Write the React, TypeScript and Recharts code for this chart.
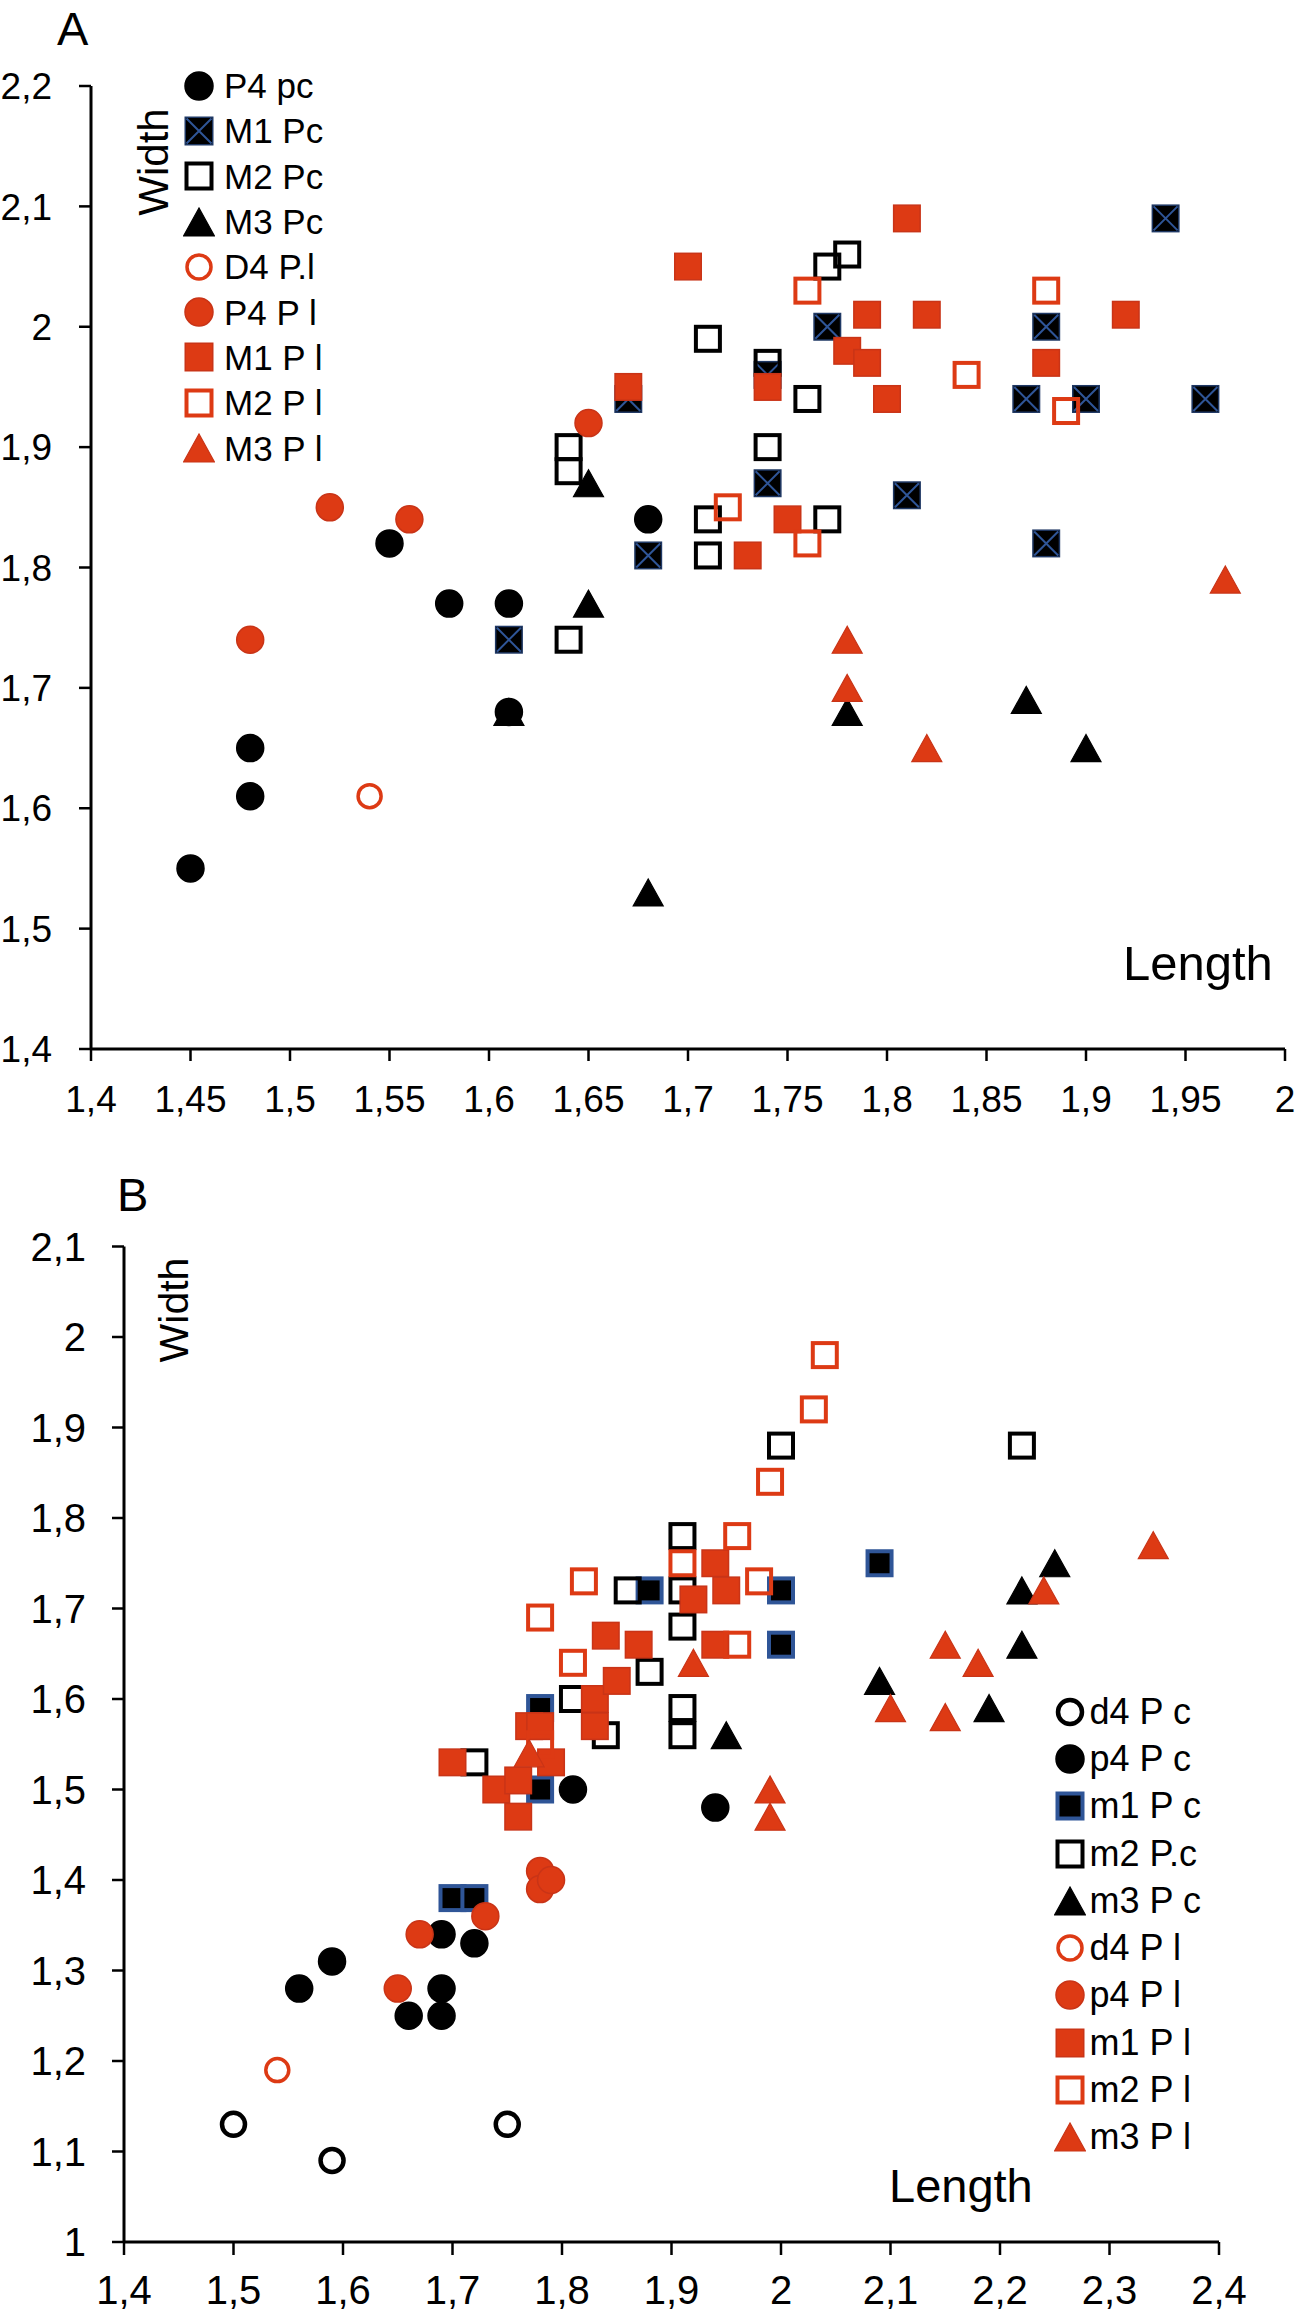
import React from "react";
import { ScatterChart, Scatter, XAxis, YAxis, Legend, Label } from "recharts";

const RED = "#DD3A14";
const RED_EDGE = "#C93417";
const BLUE = "#2F5597";
const NAVY = "#1F3864";
const SANS = "'Liberation Sans', Arial, sans-serif";
const NARROW = "'Liberation Sans Narrow', 'Liberation Sans', Arial, sans-serif";

// panel A — [length, width]
const aP4pc = [[1.45, 1.55], [1.48, 1.65], [1.48, 1.61], [1.55, 1.82], [1.58, 1.77], [1.61, 1.77], [1.61, 1.68], [1.68, 1.84]];
const aM1pc = [[1.61, 1.74], [1.67, 1.94], [1.68, 1.81], [1.74, 1.96], [1.74, 1.87], [1.77, 2.0], [1.81, 1.86], [1.87, 1.94], [1.88, 2.0], [1.88, 1.82], [1.9, 1.94], [1.94, 2.09], [1.96, 1.94]];
const aM2pc = [[1.64, 1.9], [1.64, 1.88], [1.64, 1.74], [1.71, 1.99], [1.71, 1.84], [1.71, 1.81], [1.74, 1.97], [1.74, 1.9], [1.76, 1.94], [1.77, 2.05], [1.78, 2.06], [1.77, 1.84]];
const aM3pc = [[1.61, 1.68], [1.65, 1.87], [1.65, 1.77], [1.68, 1.53], [1.78, 1.68], [1.87, 1.69], [1.9, 1.65]];
const aD4pl = [[1.54, 1.61]];
const aP4pl = [[1.48, 1.74], [1.52, 1.85], [1.56, 1.84], [1.65, 1.92]];
const aM1pl = [[1.67, 1.95], [1.7, 2.05], [1.73, 1.81], [1.74, 1.95], [1.75, 1.84], [1.78, 1.98], [1.79, 2.01], [1.79, 1.97], [1.8, 1.94], [1.81, 2.09], [1.82, 2.01], [1.88, 1.97], [1.92, 2.01]];
const aM2pl = [[1.72, 1.85], [1.76, 2.03], [1.76, 1.82], [1.84, 1.96], [1.88, 2.03], [1.89, 1.93]];
const aM3pl = [[1.78, 1.74], [1.78, 1.7], [1.82, 1.65], [1.97, 1.79]];

const aLenTicks = [1.4, 1.45, 1.5, 1.55, 1.6, 1.65, 1.7, 1.75, 1.8, 1.85, 1.9, 1.95, 2];
const aWidTicks = [1.4, 1.5, 1.6, 1.7, 1.8, 1.9, 2, 2.1, 2.2];

// panel B — [length, width]
const bD4pc = [[1.5, 1.13], [1.59, 1.09], [1.75, 1.13]];
const bP4pc = [[1.56, 1.28], [1.59, 1.31], [1.66, 1.25], [1.69, 1.25], [1.69, 1.28], [1.69, 1.34], [1.72, 1.33], [1.81, 1.5], [1.94, 1.48]];
const bM1pc = [[1.7, 1.38], [1.72, 1.38], [1.78, 1.5], [1.78, 1.59], [1.88, 1.72], [2.0, 1.72], [2.0, 1.66], [2.09, 1.75]];
const bM2pc = [[1.72, 1.53], [1.81, 1.6], [1.84, 1.56], [1.86, 1.72], [1.88, 1.63], [1.91, 1.78], [1.91, 1.72], [1.91, 1.68], [1.91, 1.59], [1.91, 1.56], [2.0, 1.88], [2.22, 1.88]];
const bM3pc = [[1.95, 1.56], [2.09, 1.62], [2.19, 1.59], [2.22, 1.66], [2.22, 1.72], [2.25, 1.75]];
const bD4pl = [[1.54, 1.19]];
const bP4pl = [[1.65, 1.28], [1.67, 1.34], [1.73, 1.36], [1.78, 1.41], [1.78, 1.39], [1.79, 1.4]];
const bM1pl = [[1.7, 1.53], [1.74, 1.5], [1.76, 1.51], [1.76, 1.47], [1.77, 1.57], [1.78, 1.57], [1.79, 1.53], [1.83, 1.6], [1.83, 1.57], [1.84, 1.67], [1.85, 1.62], [1.87, 1.66], [1.92, 1.71], [1.94, 1.75], [1.95, 1.72], [1.94, 1.66]];
const bM2pl = [[1.78, 1.55], [1.78, 1.69], [1.81, 1.64], [1.82, 1.73], [1.91, 1.75], [1.96, 1.78], [1.96, 1.66], [1.98, 1.73], [1.99, 1.84], [2.03, 1.92], [2.04, 1.98]];
const bM3pl = [[1.77, 1.54], [1.92, 1.64], [1.99, 1.5], [1.99, 1.47], [2.1, 1.59], [2.15, 1.58], [2.15, 1.66], [2.18, 1.64], [2.24, 1.72], [2.34, 1.77]];

const bLenTicks = [1.4, 1.5, 1.6, 1.7, 1.8, 1.9, 2, 2.1, 2.2, 2.3, 2.4];
const bWidTicks = [1, 1.1, 1.2, 1.3, 1.4, 1.5, 1.6, 1.7, 1.8, 1.9, 2, 2.1];

type Kind = "dot" | "ring" | "box" | "obox" | "xbox" | "bbox" | "tri";

function Marker({ kind, color, x, y, s = 28 }: { kind: Kind; color: string; x: number; y: number; s?: number }) {
  const h = s / 2;
  const edge = color === RED ? RED_EDGE : color;
  switch (kind) {
    case "dot":
      return <circle cx={x} cy={y} r={h - 0.5} fill={color} stroke={edge} strokeWidth={1.5} />;
    case "ring":
      return <circle cx={x} cy={y} r={h - 2.5} fill="none" stroke={color} strokeWidth={color === RED ? 3.5 : 4.5} />;
    case "box":
      return <rect x={x - h + 0.75} y={y - h + 0.75} width={s - 1.5} height={s - 1.5} fill={color} stroke={edge} strokeWidth={1.5} />;
    case "obox":
      return <rect x={x - h + 2} y={y - h + 2} width={s - 4} height={s - 4} fill="none" stroke={color} strokeWidth={4} />;
    case "bbox":
      return <rect x={x - h + 2} y={y - h + 2} width={s - 4} height={s - 4} fill="#000" stroke={BLUE} strokeWidth={4} />;
    case "xbox":
      return (
        <g>
          <rect x={x - h + 0.75} y={y - h + 0.75} width={s - 1.5} height={s - 1.5} fill="#000" stroke={NAVY} strokeWidth={1.5} />
          <path
            d={`M${x - h + 2},${y - h + 2}L${x + h - 2},${y + h - 2}M${x + h - 2},${y - h + 2}L${x - h + 2},${y + h - 2}`}
            stroke={BLUE}
            strokeWidth={2}
          />
        </g>
      );
    case "tri": {
      const w = s + 2;
      const th = s - 1;
      return (
        <polygon
          points={`${x},${y - th / 2} ${x - w / 2},${y + th / 2} ${x + w / 2},${y + th / 2}`}
          fill={color}
          stroke={edge}
          strokeWidth={1.2}
        />
      );
    }
  }
  return null;
}

type Series = { name: string; pts: number[][]; kind: Kind; color: string };

const seriesA: Series[] = [
  { name: "P4 pc", pts: aP4pc, kind: "dot", color: "#000" },
  { name: "M1 Pc", pts: aM1pc, kind: "xbox", color: "#000" },
  { name: "M2 Pc", pts: aM2pc, kind: "obox", color: "#000" },
  { name: "M3 Pc", pts: aM3pc, kind: "tri", color: "#000" },
  { name: "D4 P.l", pts: aD4pl, kind: "ring", color: RED },
  { name: "P4 P l", pts: aP4pl, kind: "dot", color: RED },
  { name: "M1 P l", pts: aM1pl, kind: "box", color: RED },
  { name: "M2 P l", pts: aM2pl, kind: "obox", color: RED },
  { name: "M3 P l", pts: aM3pl, kind: "tri", color: RED },
];

const seriesB: Series[] = [
  { name: "d4 P c", pts: bD4pc, kind: "ring", color: "#000" },
  { name: "p4 P c", pts: bP4pc, kind: "dot", color: "#000" },
  { name: "m1 P c", pts: bM1pc, kind: "bbox", color: "#000" },
  { name: "m2 P.c", pts: bM2pc, kind: "obox", color: "#000" },
  { name: "m3 P c", pts: bM3pc, kind: "tri", color: "#000" },
  { name: "d4 P l", pts: bD4pl, kind: "ring", color: RED },
  { name: "p4 P l", pts: bP4pl, kind: "dot", color: RED },
  { name: "m1 P l", pts: bM1pl, kind: "box", color: RED },
  { name: "m2 P l", pts: bM2pl, kind: "obox", color: RED },
  { name: "m3 P l", pts: bM3pl, kind: "tri", color: RED },
];

const comma = (v: number) => String(v).replace(".", ",");

function LegendBox({ items, rowH, gap, fontSize }: { items: Series[]; rowH: number; gap: number; fontSize: number }) {
  return (
    <div style={{ fontFamily: SANS, fontSize, color: "#000" }}>
      {items.map((it) => (
        <div key={it.name} style={{ display: "flex", alignItems: "center", height: rowH, whiteSpace: "nowrap" }}>
          <svg width={32} height={32} style={{ marginRight: gap, flex: "none" }}>
            <Marker kind={it.kind} color={it.color} x={16} y={16} s={29} />
          </svg>
          <span style={{ lineHeight: 1 }}>{it.name}</span>
        </div>
      ))}
    </div>
  );
}

function drawSeries(list: Series[]) {
  return list.map((s) => (
    <Scatter
      key={s.name}
      name={s.name}
      data={s.pts.map(([x, y]) => ({ x, y }))}
      isAnimationActive={false}
      shape={(p: any) => <Marker kind={s.kind} color={s.color} x={p.cx} y={p.cy} />}
    />
  ));
}

const axisStyle = { stroke: "#000", strokeWidth: 3 };
const tickLineStyle = { stroke: "#000", strokeWidth: 2.5 };

export default function App() {
  return (
    <div style={{ position: "absolute", left: 0, top: 0, width: 1298, height: 2318, background: "#fff", overflow: "hidden" }}>
      <div style={{ position: "absolute", left: 57, top: 5, fontFamily: SANS, fontSize: 47, lineHeight: 1 }}>A</div>
      <div style={{ position: "absolute", left: 0, top: 0 }}>
        <ScatterChart width={1298} height={1160} margin={{ top: 86, right: 13, bottom: 51, left: 0 }}>
          <XAxis
            type="number"
            dataKey="x"
            domain={[1.4, 2]}
            ticks={aLenTicks}
            interval={0}
            height={60}
            allowDataOverflow
            tickFormatter={comma}
            axisLine={axisStyle}
            tickLine={tickLineStyle}
            tickSize={12}
            tickMargin={25}
            tick={{ fill: "#000", fontSize: 37, fontFamily: NARROW }}
          >
            <Label
              content={() => (
                <text x={1123} y={980} fontFamily={SANS} fontSize={49} fill="#000">
                  Length
                </text>
              )}
            />
          </XAxis>
          <YAxis
            type="number"
            dataKey="y"
            domain={[1.4, 2.2]}
            ticks={aWidTicks}
            interval={0}
            width={91}
            allowDataOverflow
            tickFormatter={comma}
            axisLine={axisStyle}
            tickLine={tickLineStyle}
            tickSize={12}
            tickMargin={27}
            tick={{ fill: "#000", fontSize: 37, fontFamily: NARROW }}
          >
            <Label
              content={() => (
                <text x={153} y={162} transform="rotate(-90 153 162)" textAnchor="middle" dominantBaseline="central" fontFamily={SANS} fontSize={42} fill="#000">
                  Width
                </text>
              )}
            />
          </YAxis>
          <Legend
            layout="vertical"
            align="center"
            verticalAlign="middle"
            wrapperStyle={{ left: 183, top: 63, width: "auto", height: "auto" }}
            content={() => <LegendBox items={seriesA} rowH={45.3} gap={9} fontSize={35} />}
          />
          {drawSeries(seriesA)}
        </ScatterChart>
      </div>

      <div style={{ position: "absolute", left: 117, top: 1171, fontFamily: SANS, fontSize: 47, lineHeight: 1 }}>B</div>
      <div style={{ position: "absolute", left: 0, top: 1100 }}>
        <ScatterChart width={1298} height={1218} margin={{ top: 146.5, right: 79, bottom: 6, left: 0 }}>
          <XAxis
            type="number"
            dataKey="x"
            domain={[1.4, 2.4]}
            ticks={bLenTicks}
            interval={0}
            height={70}
            allowDataOverflow
            tickFormatter={comma}
            axisLine={axisStyle}
            tickLine={tickLineStyle}
            tickSize={13}
            tickMargin={21}
            tick={{ fill: "#000", fontSize: 40, fontFamily: NARROW }}
          >
            <Label
              content={() => (
                <text x={889} y={1101.7} fontFamily={SANS} fontSize={47} fill="#000">
                  Length
                </text>
              )}
            />
          </XAxis>
          <YAxis
            type="number"
            dataKey="y"
            domain={[1, 2.1]}
            ticks={bWidTicks}
            interval={0}
            width={124}
            allowDataOverflow
            tickFormatter={comma}
            axisLine={axisStyle}
            tickLine={tickLineStyle}
            tickSize={12}
            tickMargin={26}
            tick={{ fill: "#000", fontSize: 40, fontFamily: NARROW }}
          >
            <Label
              content={() => (
                <text x={174} y={210} transform="rotate(-90 174 210)" textAnchor="middle" dominantBaseline="central" fontFamily={SANS} fontSize={41} fill="#000">
                  Width
                </text>
              )}
            />
          </YAxis>
          <Legend
            layout="vertical"
            align="center"
            verticalAlign="middle"
            wrapperStyle={{ left: 1053.5, top: 588, width: "auto", height: "auto" }}
            content={() => <LegendBox items={seriesB} rowH={47.3} gap={4} fontSize={36} />}
          />
          {drawSeries(seriesB)}
        </ScatterChart>
      </div>
    </div>
  );
}
